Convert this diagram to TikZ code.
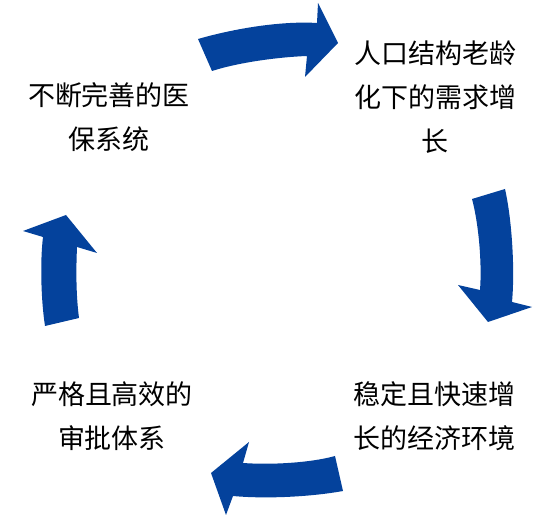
\documentclass[tikz,border=0pt]{standalone}
\usepackage{fontspec}
\setmainfont{Noto Sans CJK SC}
\definecolor{arrowblue}{RGB}{4,66,156}
\begin{document}
\begin{tikzpicture}[x=1pt,y=-1pt,
  lbl/.style={align=center,inner sep=0pt,font=\fontsize{27}{44}\selectfont,text=black},
  bigarrow/.style={fill=arrowblue,draw=none}]
\useasboundingbox (0,0) rectangle (550,518);
% labels
\node[lbl] (tl) at (109,117) {不断完善的医\\保系统};
\node[lbl] (tr) at (435,97) {人口结构老龄\\化下的需求增\\长};
\node[lbl] (br) at (434,416) {稳定且快速增\\长的经济环境};
\node[lbl] (bl) at (112,416) {严格且高效的\\审批体系};
% top arrow (left to right)
\path[bigarrow] (198,39) .. controls (240,27) and (285,21) .. (317,23)
  -- (318,3) -- (338,43) -- (305,77) -- (307,56)
  .. controls (280,57) and (240,62) .. (212,71) -- cycle;
% right arrow (down)
\path[bigarrow] (472,199) -- (505,189) .. controls (512,220) and (515,270) .. (512,302)
  -- (532,307) -- (488,322) -- (458,285) -- (480,290)
  .. controls (482,265) and (479,225) .. (472,199) -- cycle;
% bottom arrow (right to left)
\path[bigarrow] (335,456) -- (343,491) .. controls (310,497) and (265,499) .. (233,496)
  -- (226,515) -- (211,473) -- (249,442) -- (243,463)
  .. controls (270,465) and (310,463) .. (335,456) -- cycle;
% left arrow (up)
\path[bigarrow] (45,326) -- (79,318) .. controls (76,295) and (76,270) .. (77,247)
  -- (97,253) -- (66,215) -- (23,231) -- (43,237)
  .. controls (40,262) and (41,300) .. (45,326) -- cycle;
\end{tikzpicture}
\end{document}
